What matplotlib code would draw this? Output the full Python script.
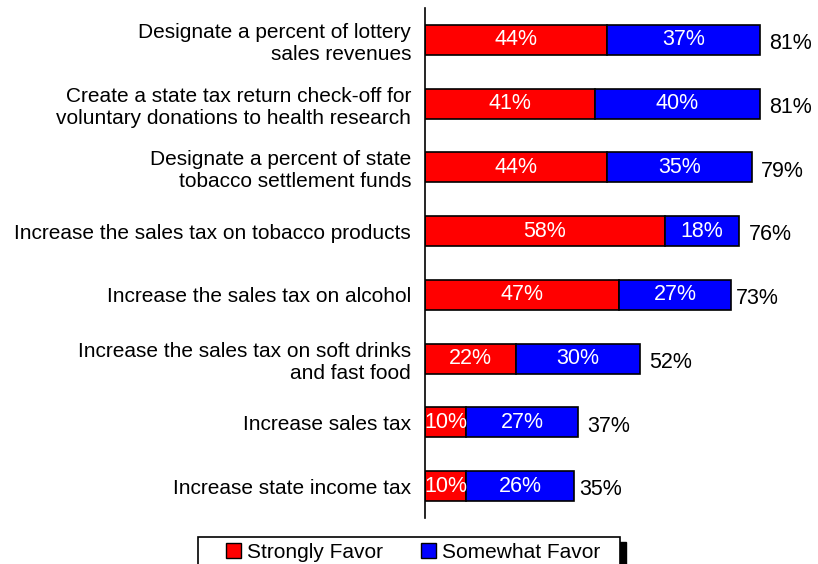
import matplotlib.pyplot as plt
from matplotlib.patches import Patch, Rectangle

plt.rcParams['font.family'] = ['Liberation Sans', 'DejaVu Sans']

# Support for ways of funding health research (percent)
options = [
    'Designate a percent of lottery\nsales revenues',
    'Create a state tax return check-off for\nvoluntary donations to health research',
    'Designate a percent of state\ntobacco settlement funds',
    'Increase the sales tax on tobacco products',
    'Increase the sales tax on alcohol',
    'Increase the sales tax on soft drinks\nand fast food',
    'Increase sales tax',
    'Increase state income tax',
]
strongly = [44, 41, 44, 58, 47, 22, 10, 10]
somewhat = [37, 40, 35, 18, 27, 30, 27, 26]
totals = [81, 81, 79, 76, 73, 52, 37, 35]

fig = plt.figure(figsize=(8.18, 5.64), dpi=100)
ax = fig.add_axes([0.5196, 0.0816, 0.4804, 0.9044])

y = list(range(len(options)))
ax.barh(y, strongly, height=0.47, color='#FF0000', edgecolor='black', linewidth=1.2)
ax.barh(y, somewhat, left=strongly, height=0.47, color='#0000FF', edgecolor='black', linewidth=1.2)

for i in y:
    ax.text(strongly[i] / 2, i, f'{strongly[i]}%', color='white', ha='center', va='center', fontsize=15.5)
    ax.text(strongly[i] + somewhat[i] / 2, i, f'{somewhat[i]}%', color='white', ha='center', va='center', fontsize=15.5)
    ax.text(totals[i] + 2.2, i + 0.06, f'{totals[i]}%', color='black', ha='left', va='center', fontsize=15.5)

ax.set_xlim(0, 95)
ax.set_ylim(7.5, -0.5)
ax.set_yticks(y)
ax.set_yticklabels(options, fontsize=15, ha='right')
ax.tick_params(axis='y', length=0, pad=10)
ax.set_xticks([])
for side in ['top', 'right', 'bottom']:
    ax.spines[side].set_visible(False)
ax.spines['left'].set_linewidth(1.2)

# legend box with a solid drop shadow, running off the bottom edge
W, H = 818, 564
fig.patches.append(Rectangle((204 / W, -0.05), 422 / W, (H - 537 - 5) / H + 0.05,
                             transform=fig.transFigure, facecolor='black', edgecolor='black'))
fig.patches.append(Rectangle((198 / W, -0.05), 422 / W, (H - 537) / H + 0.05,
                             transform=fig.transFigure, facecolor='white', edgecolor='black', linewidth=1.2))

handles = [Patch(facecolor='#FF0000', edgecolor='black', label='Strongly Favor'),
           Patch(facecolor='#0000FF', edgecolor='black', label='Somewhat Favor')]
leg = fig.legend(handles=handles, loc='center', bbox_to_anchor=(413 / W, 1 - 552 / H),
                 ncol=2, fontsize=15, frameon=False, handlelength=0.72, handleheight=0.72,
                 columnspacing=1.8, handletextpad=0.3, borderpad=0.1)

fig.savefig('out.png', dpi=100)
